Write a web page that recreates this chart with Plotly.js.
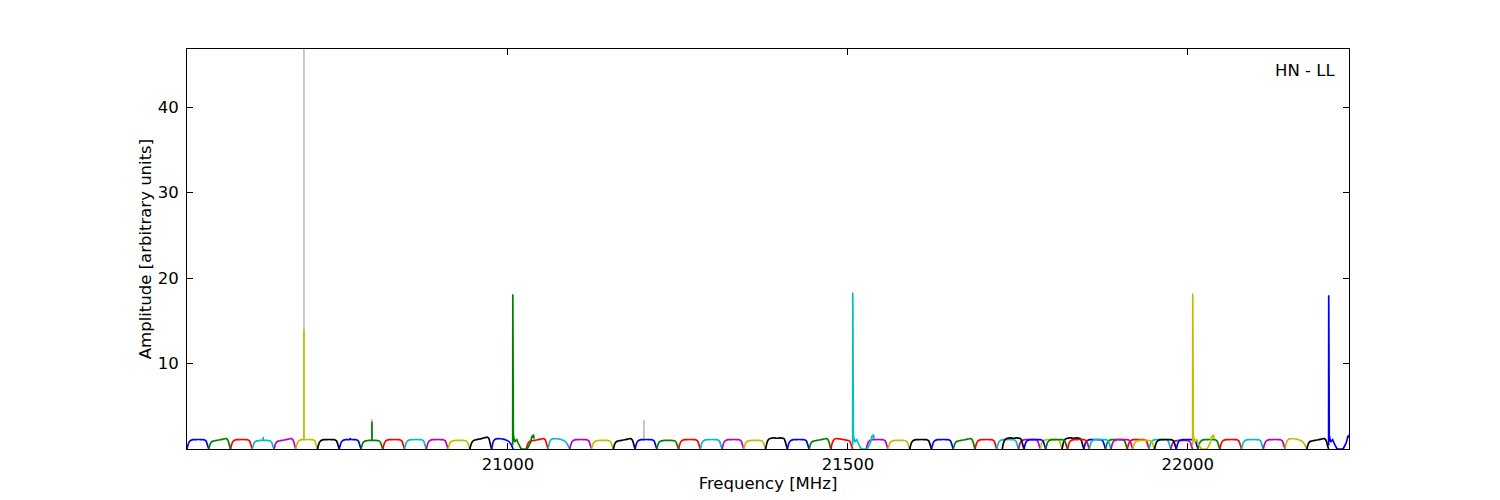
<!DOCTYPE html>
<html>
<head>
<meta charset="utf-8">
<script src="https://cdn.plot.ly/plotly-3.0.1.min.js"></script>
<style>html,body{margin:0;padding:0;background:#fff;}#chart{width:1500px;height:500px;}</style>
</head>
<body>
<div id="chart"></div>
<script>
// ---- data ----
// start frequency (MHz) of each normal 32 MHz spectral window
const WINDOW_STARTS = [
  20528, 20560, 20592, 20624, 20656, 20688, 20720, 20752, 20784, 20816, 20848, 20880, 20912, 20944, 20976,
  21027, 21059, 21091, 21123, 21155, 21187, 21219, 21251, 21283, 21315, 21347, 21379, 21411, 21443, 21475,
  21527, 21559, 21591, 21623, 21655, 21687, 21719, 21751, 21783, 21815, 21847, 21879, 21911, 21943, 21975,
  21727, 21759, 21791, 21823, 21855, 21887, 21919, 21951, 21983, 22015, 22047, 22079, 22111, 22143, 22175
];
const WINDOW_COLORS = [
  'b','g','r','c','m','y','k','b','g','r','c','m','y','k','b',
  'r','c','m','y','k','b','g','r','c','m','y','k','b','g','r',
  'm','y','k','b','g','r','c','m','y','k','b','g','r','c','m',
  'k','b','g','r','c','m','y','k','b','g','r','c','m','y','k'
];
const WINDOW_SHAPES = [
  'F','R','F','L','R','F','F','F','L','F','F','F','L','RH','M',
  'R','M','F','L','R','F','L','F','F','F','L','H','F','R','D',
  'F','L','F','F','R','F','F','F','F','H','F','F','F','F','L',
  'H','F','F','F','F','F','L','F','F','F','F','F','F','M','R'
];
// bandpass profile: channel offsets (MHz) within a window and amplitude templates
const BAND_OFFSETS = [0, 1, 2, 3, 4.5, 6.5, 9, 13, 17, 21, 24, 26, 27.5, 29, 30.5, 32];
const BAND_F  = [0, 0.35, 0.62, 0.8, 0.95, 1.04, 1.09, 1.1, 1.11, 1.1, 1.09, 1.06, 0.98, 0.75, 0.35, 0];
const BAND_L  = [0, 0.32, 0.56, 0.73, 0.86, 0.95, 0.99, 1.0, 1.01, 1.0, 0.99, 0.96, 0.88, 0.68, 0.32, 0];
const BAND_R  = [0, 0.3, 0.55, 0.72, 0.85, 0.92, 0.97, 1.02, 1.08, 1.15, 1.2, 1.22, 1.12, 0.85, 0.4, 0];
const BAND_RH = [0, 0.32, 0.58, 0.78, 0.93, 1.02, 1.08, 1.15, 1.22, 1.3, 1.36, 1.38, 1.28, 0.95, 0.42, 0];
const BAND_D  = [0, 0.4, 0.7, 0.92, 1.1, 1.2, 1.22, 1.18, 1.12, 1.06, 1.02, 1.0, 0.92, 0.7, 0.32, 0];
const BAND_H  = [0, 0.4, 0.72, 0.95, 1.12, 1.22, 1.28, 1.3, 1.26, 1.3, 1.28, 1.25, 1.15, 0.85, 0.4, 0];
const BAND_M  = [0, 0.4, 0.72, 0.95, 1.1, 1.18, 1.22, 1.2, 1.15, 1.05, 0.95, 0.82, 0.68, 0.48, 0.22, 0];

// windows that contain the strong tone at their first channel
const SPIKE_STARTS  = [21007, 21507, 22007, 22207];
const SPIKE_COLORS  = ['g', 'c', 'y', 'b'];
const SPIKE_PEAKS   = [18.1, 18.3, 18.2, 18.0];
const SPIKE_OFFSETS = [0, 0.2, 0.45, 1, 2, 3, 4.5, 6, 8, 10, 12, 14, 17, 20, 22, 24, 26, 27.5, 28.5, 29.5, 30.5, 31.5];
const SPIKE_PROFILE = [0.4, null, 1.8, 1.6, 1.2, 0.8, 1.0, 1.1, 0.7, 0.3, 0.08, 0, 0, 0, 0.1, 0.35, 0.75, 1.2, 1.55, 1.35, 1.7, 1.2];

// narrow lines inside windows
const LINE_FREQS  = [20700, 20800, 20640, 20768];
const LINE_BASES  = [1.1, 1.05, 1.0, 1.1];
const LINE_TOPS   = [14.0, 3.2, 1.4, 1.3];
const LINE_COLORS = ['y', 'g', 'c', 'b'];

// grey reference spectrum spikes
const GREY_FREQS = [20700, 20800, 21200];
const GREY_BASES = [1.1, 1.05, 1.1];
const GREY_TOPS  = [60, 3.5, 3.4];

const X_TICKS = [21000, 21500, 22000];
const Y_TICKS = [10, 20, 30, 40];

// ---- styles ----
const COLORS = {b:'#0000ff', g:'#008000', r:'#ff0000', c:'#00bfbf', m:'#bf00bf', y:'#bfbf00', k:'#000000'};
const TEMPLATES = {F:BAND_F, L:BAND_L, R:BAND_R, RH:BAND_RH, D:BAND_D, H:BAND_H, M:BAND_M};
const LW = 1.7;

const traces = [];
GREY_FREQS.forEach((f, i) => {
  traces.push({x:[f, f], y:[GREY_BASES[i], GREY_TOPS[i]], type:'scatter', mode:'lines',
    line:{color:'#bfbfbf', width:LW}, hoverinfo:'skip', showlegend:false});
});
WINDOW_STARTS.forEach((s, i) => {
  const tpl = TEMPLATES[WINDOW_SHAPES[i]];
  traces.push({x: BAND_OFFSETS.map(o => s + o), y: tpl.slice(), type:'scatter', mode:'lines',
    line:{color: COLORS[WINDOW_COLORS[i]], width:LW, shape:'spline', smoothing:0.6}, showlegend:false});
});
SPIKE_STARTS.forEach((s, i) => {
  const y = SPIKE_PROFILE.map(v => v === null ? SPIKE_PEAKS[i] : v);
  traces.push({x: SPIKE_OFFSETS.map(o => s + o), y: y, type:'scatter', mode:'lines',
    line:{color: COLORS[SPIKE_COLORS[i]], width:LW}, showlegend:false});
});
LINE_FREQS.forEach((f, i) => {
  traces.push({x:[f, f], y:[LINE_BASES[i], LINE_TOPS[i]], type:'scatter', mode:'lines',
    line:{color: COLORS[LINE_COLORS[i]], width:LW}, showlegend:false});
});

const FONT = {family:'DejaVu Sans, sans-serif', size:16.5, color:'#000'};
const layout = {
  width:1500, height:500,
  margin:{l:187, r:151, t:49, b:51},
  paper_bgcolor:'#fff', plot_bgcolor:'#fff',
  font: FONT,
  showlegend:false,
  xaxis:{
    range:[20528, 22237], tickvals:X_TICKS, ticktext:X_TICKS.map(String),
    ticks:'inside', ticklen:6, tickcolor:'#000', tickwidth:1,
    showline:true, linecolor:'#000', linewidth:1, mirror:'ticks',
    showgrid:false, zeroline:false, tickfont:FONT,
    title:{text:'Frequency [MHz]', font:FONT, standoff:2}
  },
  yaxis:{
    range:[0, 46.8], tickvals:Y_TICKS, ticktext:Y_TICKS.map(String),
    ticks:'inside', ticklen:6, tickcolor:'#000', tickwidth:1,
    showline:true, linecolor:'#000', linewidth:1, mirror:'ticks',
    showgrid:false, zeroline:false, tickfont:FONT, ticklabelstandoff:4,
    title:{text:'Amplitude [arbitrary units]', font:FONT, standoff:1}
  },
  annotations:[{text:'HN - LL', xref:'paper', yref:'paper', x:1, y:1, xanchor:'right', yanchor:'top',
    xshift:-12, yshift:-10, showarrow:false, font:FONT}]
};
Plotly.newPlot('chart', traces, layout, {staticPlot:true, displayModeBar:false});
</script>
</body>
</html>
